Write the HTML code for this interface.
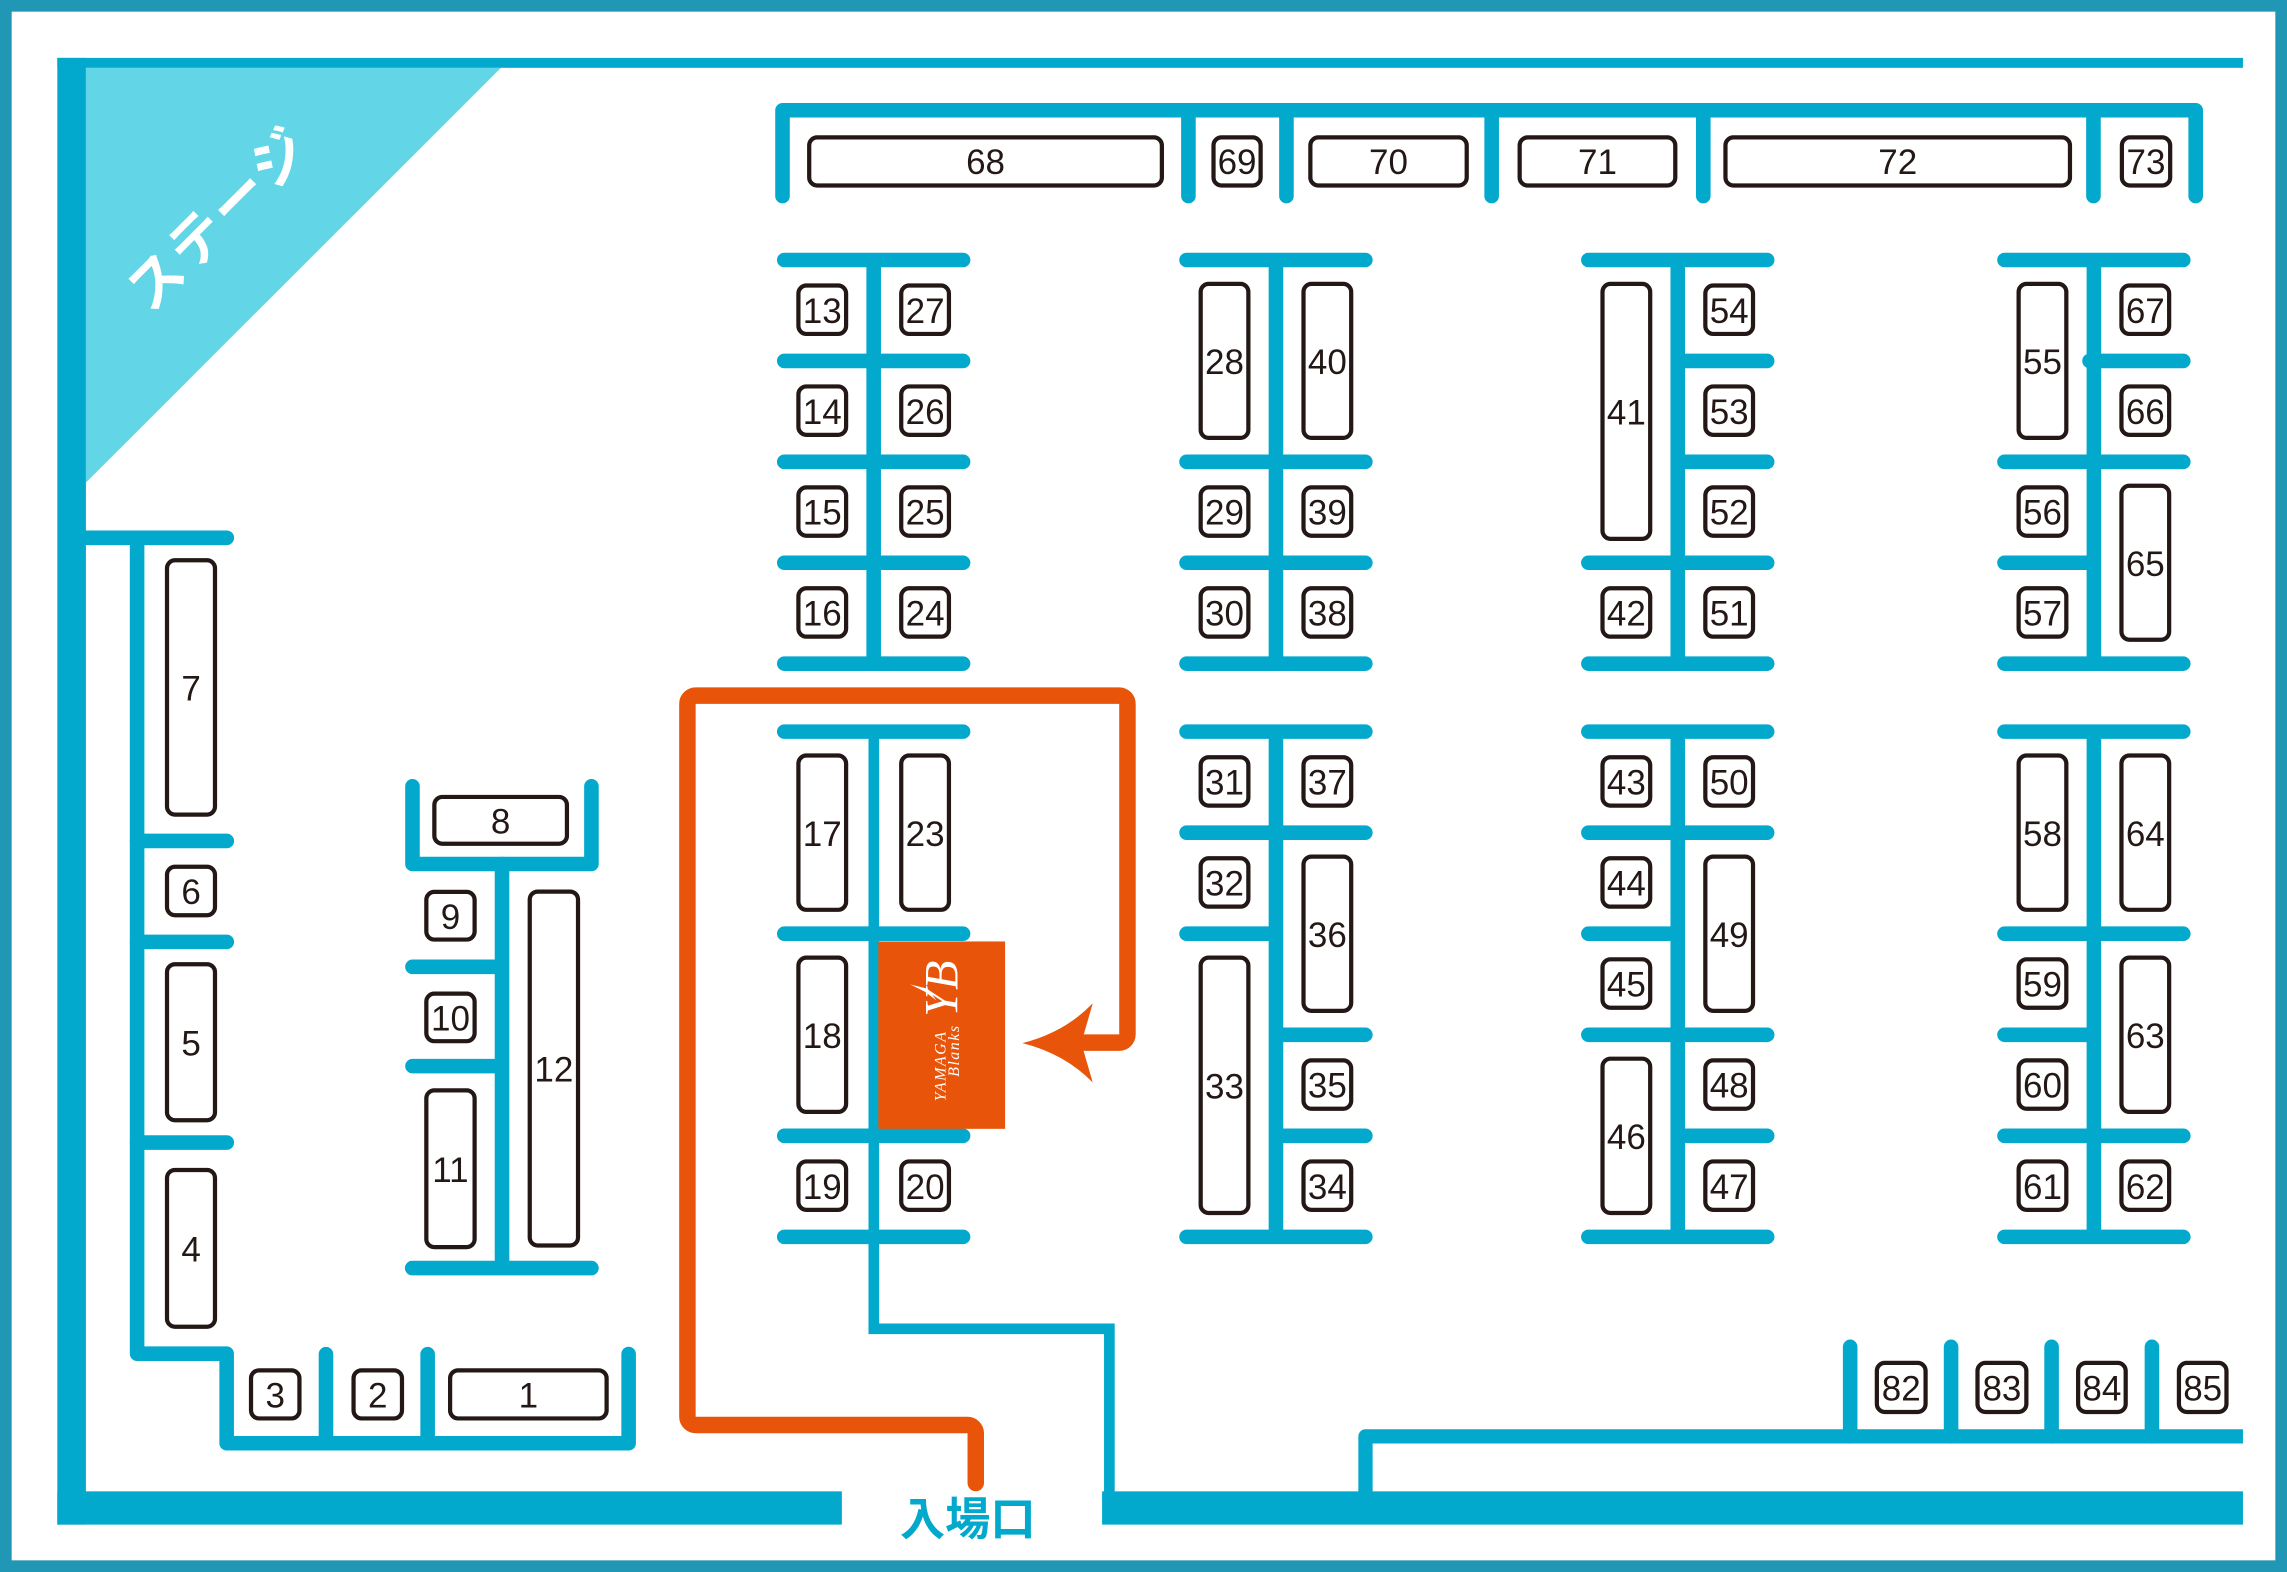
<!DOCTYPE html>
<html><head><meta charset="utf-8">
<style>
html,body{margin:0;padding:0;background:#fff;}
svg{display:block;}
.b{fill:#fff;stroke:#231815;stroke-width:2.9;}
.t{font-family:"Liberation Sans",sans-serif;font-size:24px;fill:#231815;text-anchor:middle;}
.w{stroke:#02a9cd;fill:none;stroke-linecap:round;stroke-width:10;}
</style></head>
<body>
<svg width="2287" height="1572" viewBox="0 0 1568 1078" preserveAspectRatio="none" xmlns="http://www.w3.org/2000/svg">
<rect x="0" y="0" width="1568" height="1078" fill="#fff"/>
<!-- outer frame -->
<rect x="4" y="4" width="1560" height="1070" fill="none" stroke="#2197b6" stroke-width="8"/>
<!-- stage -->
<polygon points="58.9,46.5 343.5,46.5 58.9,331" fill="#62d6e7"/>
<text transform="translate(150,150) rotate(-45)" text-anchor="middle" dominant-baseline="central" font-family="'Liberation Sans','Noto Sans CJK JP',sans-serif" font-size="38" font-weight="bold" letter-spacing="2" fill="#fff">ステージ</text>
<!-- walls -->
<g fill="#02a9cd">
<rect x="39.3" y="39.7" width="19.6" height="1005.8"/>
<rect x="39.3" y="39.7" width="1498.5" height="6.8"/>
<rect x="39.3" y="1022.7" width="537.9" height="22.8"/>
<rect x="755.6" y="1022.7" width="782.2" height="22.8"/>
</g>
<!-- top row structure -->
<path class="w" stroke-width="9.7" stroke-linejoin="round" d="M536.5 134.5 V75.6 H1505.4 V134.5"/>
<path class="w" stroke-width="9.7" d="M814.8 75.6 V134.5 M882 75.6 V134.5 M1022.7 75.6 V134.5 M1167.8 75.6 V134.5 M1435.3 75.6 V134.5"/>

<!-- column A -->
<path class="w" d="M599 178.3 V455.1 M537.7 178.3 H660.3 M537.7 247.5 H660.3 M537.7 316.7 H660.3 M537.7 385.9 H660.3 M537.7 455.1 H660.3"/>
<path stroke="#02a9cd" stroke-width="7.3" fill="none" stroke-linejoin="miter" d="M599.1 501.7 V911.2 H760.6 V1030"/>
<path class="w" d="M537.7 501.7 H660.3 M537.7 640.3 H660.3 M537.7 778.9 H660.3 M537.7 848.2 H660.3"/>
<!-- column B -->
<path class="w" d="M874.8 178.3 V455.1 M813.5 178.3 H936.1 M813.5 316.7 H936.1 M813.5 385.9 H936.1 M813.5 455.1 H936.1"/>
<path class="w" d="M874.8 501.7 V848.2 M813.5 501.7 H936.1 M813.5 571 H936.1 M813.5 848.2 H936.1 M813.5 640.3 H874.8 M874.8 709.6 H936.1 M874.8 778.9 H936.1"/>
<!-- column C -->
<path class="w" d="M1150.3 178.3 V455.1 M1089 178.3 H1211.6 M1089 385.9 H1211.6 M1089 455.1 H1211.6 M1150.3 247.5 H1211.6 M1150.3 316.7 H1211.6"/>
<path class="w" d="M1150.3 501.7 V848.2 M1089 501.7 H1211.6 M1089 571 H1211.6 M1089 709.6 H1211.6 M1089 848.2 H1211.6 M1089 640.3 H1150.3 M1150.3 778.9 H1211.6"/>
<!-- column D -->
<path class="w" d="M1435.6 178.3 V455.1 M1374.3 178.3 H1496.9 M1374.3 316.7 H1496.9 M1374.3 455.1 H1496.9 M1432.6 247.5 H1496.9 M1374.3 385.9 H1435.6"/>
<path class="w" d="M1435.6 501.7 V848.2 M1374.3 501.7 H1496.9 M1374.3 640.3 H1496.9 M1374.3 778.9 H1496.9 M1374.3 848.2 H1496.9 M1374.3 709.6 H1435.6"/>

<!-- left section -->
<path class="w" stroke-width="9.8" d="M50 368.8 H155.5"/>
<path class="w" stroke-width="9.7" stroke-linejoin="round" d="M94 368.8 V928.3 H155.4 V989.7 H431 V928.5"/>
<path class="w" stroke-width="9.8" d="M223.5 928.6 V989.7 M293.2 928.6 V989.7 M94 576.7 H155.5 M94 645.9 H155.5 M94 783.5 H155.5"/>
<!-- group 8-12 -->
<path class="w" stroke-width="9.5" stroke-linejoin="round" d="M282.8 539.2 V592.5 H405.5 V539.2"/>
<path class="w" stroke-width="9.6" d="M344.2 592.5 V869.6 M282.8 663 H344.2 M282.8 731.1 H344.2 M282.6 869.6 H405.5"/>
<!-- bottom right -->
<path stroke="#02a9cd" stroke-width="9.8" fill="none" stroke-linejoin="round" d="M936.2 1030 V985 H1537.8"/>
<path class="w" stroke-width="9.5" d="M1268.5 923.6 V985 M1337.7 923.6 V985 M1406.6 923.6 V985 M1475.4 923.6 V985"/>

<!-- orange route -->
<path fill="none" stroke="#e8550a" stroke-width="11.3" stroke-linecap="round" d="M669 1017 V982.85 A5.65 5.65 0 0 0 663.35 977.2 H476.95 A5.65 5.65 0 0 1 471.3 971.55 V482.65 A5.65 5.65 0 0 1 476.95 477 H767.35 A5.65 5.65 0 0 1 773 482.65 V709.35 A5.65 5.65 0 0 1 767.35 715 H744"/>
<path fill="#e8550a" d="M701 715.3 Q730 708 749.2 688 L743 709.6 L743 721 L749.2 742.3 Q730 722.6 701 715.3 Z"/>

<!-- logo -->
<rect x="602.2" y="645.6" width="86.9" height="128.5" fill="#e8550a"/>
<g fill="#fff" font-family="'Liberation Serif',serif" font-style="italic">
<text transform="translate(646,678) rotate(-90)" text-anchor="middle" dominant-baseline="central" font-size="33">YB</text>
<text transform="translate(645,731) rotate(-90)" text-anchor="middle" dominant-baseline="central" font-size="11" letter-spacing="1">YAMAGA</text>
<text transform="translate(654.5,720.5) rotate(-90)" text-anchor="middle" dominant-baseline="central" font-size="11" letter-spacing="1">Blanks</text>
</g>
<path d="M624 675 L636 678 L642 686 L634 680 Z" fill="#fff"/>

<!-- entrance label -->
<text x="663.5" y="1052.6" text-anchor="middle" font-family="'Liberation Sans','Noto Sans CJK JP',sans-serif" font-size="31" font-weight="bold" fill="#02a9cd">入場口</text>

<!-- booths: top row -->
<g>
<rect class="b" x="554.8" y="94.2" width="241.8" height="33" rx="5.5"/><text class="t" x="675.7" y="119.5">68</text>
<rect class="b" x="832" y="94.2" width="32.3" height="33" rx="5.5"/><text class="t" x="848.15" y="119.5">69</text>
<rect class="b" x="898.4" y="94.2" width="107.2" height="33" rx="5.5"/><text class="t" x="952" y="119.5">70</text>
<rect class="b" x="1041.9" y="94.2" width="106.7" height="33" rx="5.5"/><text class="t" x="1095.25" y="119.5">71</text>
<rect class="b" x="1183" y="94.2" width="236.2" height="33" rx="5.5"/><text class="t" x="1301.1" y="119.5">72</text>
<rect class="b" x="1454.8" y="94.2" width="33.1" height="33" rx="5.5"/><text class="t" x="1471.35" y="119.5">73</text>
</g>

<!-- column A booths -->
<g>
<rect class="b" x="547.4" y="195.8" width="32.7" height="33.2" rx="5.5"/><text class="t" x="563.75" y="221.4">13</text>
<rect class="b" x="547.4" y="265" width="32.7" height="33.2" rx="5.5"/><text class="t" x="563.75" y="290.6">14</text>
<rect class="b" x="547.4" y="334.2" width="32.7" height="33.2" rx="5.5"/><text class="t" x="563.75" y="359.8">15</text>
<rect class="b" x="547.4" y="403.4" width="32.7" height="33.2" rx="5.5"/><text class="t" x="563.75" y="429">16</text>
<rect class="b" x="617.9" y="195.8" width="32.7" height="33.2" rx="5.5"/><text class="t" x="634.25" y="221.4">27</text>
<rect class="b" x="617.9" y="265" width="32.7" height="33.2" rx="5.5"/><text class="t" x="634.25" y="290.6">26</text>
<rect class="b" x="617.9" y="334.2" width="32.7" height="33.2" rx="5.5"/><text class="t" x="634.25" y="359.8">25</text>
<rect class="b" x="617.9" y="403.4" width="32.7" height="33.2" rx="5.5"/><text class="t" x="634.25" y="429">24</text>
<rect class="b" x="547.4" y="518.1" width="32.7" height="105.8" rx="5.5"/><text class="t" x="563.75" y="580">17</text>
<rect class="b" x="547.4" y="656.7" width="32.7" height="105.8" rx="5.5"/><text class="t" x="563.75" y="718.6">18</text>
<rect class="b" x="547.4" y="796.45" width="32.7" height="33.2" rx="5.5"/><text class="t" x="563.75" y="822.05">19</text>
<rect class="b" x="617.9" y="518.1" width="32.7" height="105.8" rx="5.5"/><text class="t" x="634.25" y="580">23</text>
<rect class="b" x="617.9" y="796.45" width="32.7" height="33.2" rx="5.5"/><text class="t" x="634.25" y="822.05">20</text>
</g>

<!-- column B booths -->
<g>
<rect class="b" x="823.2" y="194.7" width="32.7" height="105.6" rx="5.5"/><text class="t" x="839.55" y="256.5">28</text>
<rect class="b" x="823.2" y="334.2" width="32.7" height="33.2" rx="5.5"/><text class="t" x="839.55" y="359.8">29</text>
<rect class="b" x="823.2" y="403.4" width="32.7" height="33.2" rx="5.5"/><text class="t" x="839.55" y="429">30</text>
<rect class="b" x="893.7" y="194.7" width="32.7" height="105.6" rx="5.5"/><text class="t" x="910.05" y="256.5">40</text>
<rect class="b" x="893.7" y="334.2" width="32.7" height="33.2" rx="5.5"/><text class="t" x="910.05" y="359.8">39</text>
<rect class="b" x="893.7" y="403.4" width="32.7" height="33.2" rx="5.5"/><text class="t" x="910.05" y="429">38</text>
<rect class="b" x="823.2" y="519.25" width="32.7" height="33.2" rx="5.5"/><text class="t" x="839.55" y="544.85">31</text>
<rect class="b" x="823.2" y="588.55" width="32.7" height="33.2" rx="5.5"/><text class="t" x="839.55" y="614.15">32</text>
<rect class="b" x="823.2" y="656.7" width="32.7" height="175.1" rx="5.5"/><text class="t" x="839.55" y="753.25">33</text>
<rect class="b" x="893.7" y="519.25" width="32.7" height="33.2" rx="5.5"/><text class="t" x="910.05" y="544.85">37</text>
<rect class="b" x="893.7" y="587.4" width="32.7" height="105.8" rx="5.5"/><text class="t" x="910.05" y="649.3">36</text>
<rect class="b" x="893.7" y="727.15" width="32.7" height="33.2" rx="5.5"/><text class="t" x="910.05" y="752.75">35</text>
<rect class="b" x="893.7" y="796.45" width="32.7" height="33.2" rx="5.5"/><text class="t" x="910.05" y="822.05">34</text>
</g>

<!-- column C booths -->
<g>
<rect class="b" x="1098.7" y="194.7" width="32.7" height="174.8" rx="5.5"/><text class="t" x="1115.05" y="291.1">41</text>
<rect class="b" x="1098.7" y="403.4" width="32.7" height="33.2" rx="5.5"/><text class="t" x="1115.05" y="429">42</text>
<rect class="b" x="1169.2" y="195.8" width="32.7" height="33.2" rx="5.5"/><text class="t" x="1185.55" y="221.4">54</text>
<rect class="b" x="1169.2" y="265" width="32.7" height="33.2" rx="5.5"/><text class="t" x="1185.55" y="290.6">53</text>
<rect class="b" x="1169.2" y="334.2" width="32.7" height="33.2" rx="5.5"/><text class="t" x="1185.55" y="359.8">52</text>
<rect class="b" x="1169.2" y="403.4" width="32.7" height="33.2" rx="5.5"/><text class="t" x="1185.55" y="429">51</text>
<rect class="b" x="1098.7" y="519.25" width="32.7" height="33.2" rx="5.5"/><text class="t" x="1115.05" y="544.85">43</text>
<rect class="b" x="1098.7" y="588.55" width="32.7" height="33.2" rx="5.5"/><text class="t" x="1115.05" y="614.15">44</text>
<rect class="b" x="1098.7" y="657.85" width="32.7" height="33.2" rx="5.5"/><text class="t" x="1115.05" y="683.45">45</text>
<rect class="b" x="1098.7" y="726" width="32.7" height="105.8" rx="5.5"/><text class="t" x="1115.05" y="787.9">46</text>
<rect class="b" x="1169.2" y="519.25" width="32.7" height="33.2" rx="5.5"/><text class="t" x="1185.55" y="544.85">50</text>
<rect class="b" x="1169.2" y="587.4" width="32.7" height="105.8" rx="5.5"/><text class="t" x="1185.55" y="649.3">49</text>
<rect class="b" x="1169.2" y="727.15" width="32.7" height="33.2" rx="5.5"/><text class="t" x="1185.55" y="752.75">48</text>
<rect class="b" x="1169.2" y="796.45" width="32.7" height="33.2" rx="5.5"/><text class="t" x="1185.55" y="822.05">47</text>
</g>

<!-- column D booths -->
<g>
<rect class="b" x="1384" y="194.7" width="32.7" height="105.6" rx="5.5"/><text class="t" x="1400.35" y="256.5">55</text>
<rect class="b" x="1384" y="334.2" width="32.7" height="33.2" rx="5.5"/><text class="t" x="1400.35" y="359.8">56</text>
<rect class="b" x="1384" y="403.4" width="32.7" height="33.2" rx="5.5"/><text class="t" x="1400.35" y="429">57</text>
<rect class="b" x="1454.5" y="195.8" width="32.7" height="33.2" rx="5.5"/><text class="t" x="1470.85" y="221.4">67</text>
<rect class="b" x="1454.5" y="265" width="32.7" height="33.2" rx="5.5"/><text class="t" x="1470.85" y="290.6">66</text>
<rect class="b" x="1454.5" y="333.1" width="32.7" height="105.6" rx="5.5"/><text class="t" x="1470.85" y="394.9">65</text>
<rect class="b" x="1384" y="518.1" width="32.7" height="105.8" rx="5.5"/><text class="t" x="1400.35" y="580">58</text>
<rect class="b" x="1384" y="657.85" width="32.7" height="33.2" rx="5.5"/><text class="t" x="1400.35" y="683.45">59</text>
<rect class="b" x="1384" y="727.15" width="32.7" height="33.2" rx="5.5"/><text class="t" x="1400.35" y="752.75">60</text>
<rect class="b" x="1384" y="796.45" width="32.7" height="33.2" rx="5.5"/><text class="t" x="1400.35" y="822.05">61</text>
<rect class="b" x="1454.5" y="518.1" width="32.7" height="105.8" rx="5.5"/><text class="t" x="1470.85" y="580">64</text>
<rect class="b" x="1454.5" y="656.7" width="32.7" height="105.8" rx="5.5"/><text class="t" x="1470.85" y="718.6">63</text>
<rect class="b" x="1454.5" y="796.45" width="32.7" height="33.2" rx="5.5"/><text class="t" x="1470.85" y="822.05">62</text>
</g>

<!-- left section booths -->
<g>
<rect class="b" x="114.5" y="384.2" width="32.9" height="174.4" rx="5.5"/><text class="t" x="131" y="480.4">7</text>
<rect class="b" x="114.5" y="594.4" width="32.9" height="33.2" rx="5.5"/><text class="t" x="131" y="620">6</text>
<rect class="b" x="114.5" y="661.2" width="32.9" height="107" rx="5.5"/><text class="t" x="131" y="723.7">5</text>
<rect class="b" x="114.5" y="802.3" width="32.9" height="107.5" rx="5.5"/><text class="t" x="131" y="865">4</text>
<rect class="b" x="172.1" y="939.7" width="33.2" height="33" rx="5.5"/><text class="t" x="188.7" y="965.2">3</text>
<rect class="b" x="242.4" y="939.7" width="33.2" height="33" rx="5.5"/><text class="t" x="259" y="965.2">2</text>
<rect class="b" x="308.6" y="939.7" width="107.3" height="33" rx="5.5"/><text class="t" x="362.25" y="965.2">1</text>
<rect class="b" x="297.8" y="546.5" width="90.9" height="32.1" rx="5.5"/><text class="t" x="343.25" y="571.5">8</text>
<rect class="b" x="292.3" y="611.6" width="33.1" height="32.7" rx="5.5"/><text class="t" x="308.85" y="637">9</text>
<rect class="b" x="292.3" y="681.4" width="33.1" height="32.6" rx="5.5"/><text class="t" x="308.85" y="706.7">10</text>
<rect class="b" x="292.3" y="747.7" width="33.1" height="107.5" rx="5.5"/><text class="t" x="308.85" y="810.5">11</text>
<rect class="b" x="363.2" y="611.4" width="33.1" height="242.7" rx="5.5"/><text class="t" x="379.75" y="741.75">12</text>
</g>

<!-- bottom right booths -->
<g>
<rect class="b" x="1286.8" y="934.6" width="33.4" height="33.7" rx="5.5"/><text class="t" x="1303.5" y="960.5">82</text>
<rect class="b" x="1355.8" y="934.6" width="33.5" height="33.7" rx="5.5"/><text class="t" x="1372.55" y="960.5">83</text>
<rect class="b" x="1424.8" y="934.6" width="32.6" height="33.7" rx="5.5"/><text class="t" x="1441.1" y="960.5">84</text>
<rect class="b" x="1493.9" y="934.6" width="32.6" height="33.7" rx="5.5"/><text class="t" x="1510.2" y="960.5">85</text>
</g>
</svg>
</body></html>
